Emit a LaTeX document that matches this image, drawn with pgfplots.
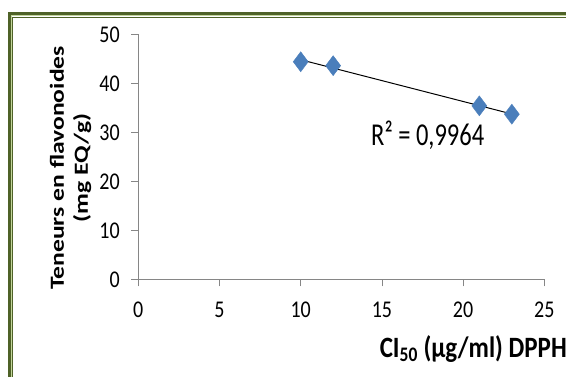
\documentclass[border=0pt]{standalone}
\usepackage{pgfplots}
\usepackage{pgfplotstable}
\pgfplotsset{compat=1.18}
\usepackage{fontspec}
\setmainfont{Carlito}
\definecolor{frameDark}{HTML}{4F6228}
\definecolor{frameLight}{HTML}{C3D69B}
\definecolor{ptBlue}{HTML}{4A7EBB}
\definecolor{axGray}{HTML}{868686}
\pgfplotstableread{
x y
10 44.4
12 43.6
21 35.4
23 33.7
}\datatable
\begin{document}
\begin{tikzpicture}[x=1pt,y=1pt]
\useasboundingbox (0,0) rectangle (566,376);
\begin{scope}
\clip (0,0) rectangle (566,376);
\draw[frameDark, line width=2.7pt] (9.3,-20) -- (9.3,362.3) -- (600,362.3);
\draw[frameLight, line width=1.2pt] (11.3,-20) -- (11.3,360.3) -- (600,360.3);
\draw[frameDark, line width=1.2pt] (12.7,-20) -- (12.7,358.8) -- (600,358.8);
\end{scope}
\begin{axis}[
  at={(138.3pt,96.7pt)}, anchor=south west,
  scale only axis, width=406pt, height=245pt,
  xmin=0, xmax=25, ymin=0, ymax=50,
  xtick={0,5,...,25}, ytick={0,10,...,50},
  axis lines*=left,
  axis line style={axGray, line width=0.75pt},
  every tick/.style={axGray, line width=0.75pt},
  tick align=outside, major tick length=7pt,
  tick label style={font=\fontsize{20}{20}\selectfont, /pgf/number format/assume math mode=true},
  xticklabel={\scalebox{1}[1.2]{\pgfmathprintnumber{\tick}}},
  yticklabel={\scalebox{1}[1.2]{\pgfmathprintnumber{\tick}}},
  xticklabel style={yshift=-12pt},
  yticklabel style={xshift=-8pt},
  clip=false,
]
\addplot[only marks, mark=diamond*, mark size=10pt, mark options={draw=ptBlue, fill=ptBlue}] table[x=x, y=y] {\datatable};
\addplot[black, line width=1pt] table[x=x, y={create col/linear regression={y=y}}] {\datatable};
\end{axis}
\node[anchor=base west, font=\fontsize{24.5}{24.5}\selectfont, inner sep=0pt] at (371,231) {\scalebox{1}[1.3]{R² = 0,9964}};
\node[rotate=90, align=center, font=\bfseries\fontsize{20}{24}\selectfont] at (70.5,208) {\scalebox{1.28}[1]{Teneurs en flavonoides}\\\scalebox{1.28}[1]{(mg EQ/g)}};
\node[anchor=base east, font=\bfseries\fontsize{25}{25}\selectfont, inner sep=0pt] at (567,19) {\scalebox{1}[1.18]{CI\textsubscript{50} (µg/ml) DPPH}};
\end{tikzpicture}
\end{document}
